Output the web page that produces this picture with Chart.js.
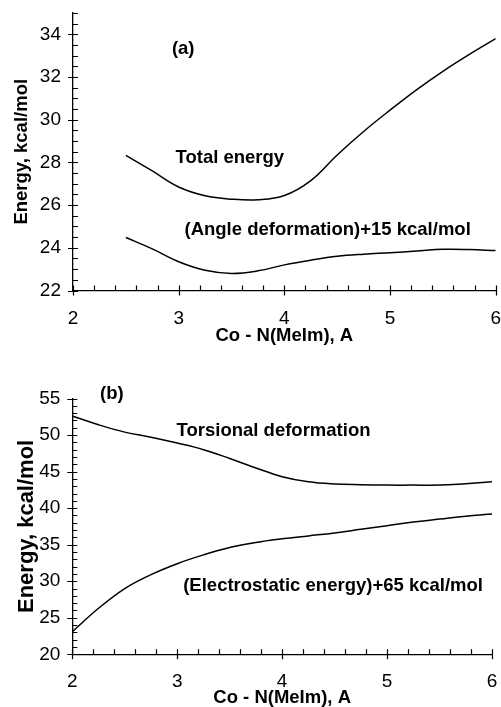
<!DOCTYPE html>
<html>
<head>
<meta charset="utf-8">
<script src="https://cdn.jsdelivr.net/npm/chart.js@4/dist/chart.umd.min.js"></script>
<style>
html,body{margin:0;padding:0;background:#fff;}
#wrap{position:relative;width:501px;height:707px;overflow:hidden;}
canvas{position:absolute;left:0;}
</style>
</head>
<body>
<div id="wrap">
<canvas id="ca" width="501" height="350" style="top:0px"></canvas>
<canvas id="cb" width="501" height="357" style="top:350px"></canvas>
</div>
<script>
// ---------- data ----------
const xA = [2.5, 2.75, 3, 3.25, 3.5, 3.75, 4, 4.25, 4.5, 4.75, 5, 5.25, 5.5, 5.75, 6];
const totalEnergy = [28.33, 27.6, 26.85, 26.44, 26.28, 26.25, 26.45, 27.15, 28.35, 29.45, 30.45, 31.4, 32.27, 33.06, 33.8];
const angleDeformation = [24.48, 23.95, 23.35, 22.95, 22.8, 22.92, 23.2, 23.42, 23.6, 23.7, 23.77, 23.85, 23.93, 23.92, 23.87];

const xB = [2, 2.25, 2.5, 2.75, 3, 3.25, 3.5, 3.75, 4, 4.25, 4.5, 4.75, 5, 5.25, 5.5, 5.75, 6];
const torsional = [52.6, 51.4, 50.4, 49.7, 48.9, 48.0, 46.8, 45.5, 44.3, 43.6, 43.3, 43.2, 43.15, 43.15, 43.15, 43.35, 43.6];
const electrostatic = [23.1, 26.3, 29.0, 30.9, 32.4, 33.6, 34.6, 35.3, 35.8, 36.2, 36.6, 37.1, 37.6, 38.1, 38.5, 38.9, 39.2];

const xTitle = 'Co - N(MeIm), A';
const yTitle = 'Energy, kcal/mol';
const notesA = ['(a)', 'Total energy', '(Angle deformation)+15 kcal/mol'];
const notesAx = [2.936, 2.97, 3.055];
const notesAy = [33.1, 27.99, 24.6];
const notesB = ['(b)', 'Torsional deformation', '(Electrostatic energy)+65 kcal/mol'];
const notesBx = [2.264, 2.994, 3.057];
const notesBy = [54.87, 49.85, 28.65];

// ---------- plugins ----------
const FONT = '"Liberation Sans", Arial, Helvetica, sans-serif';
const isMult = (v, m) => Math.abs(v / m - Math.round(v / m)) < 1e-6;

const tickMarks = {
  id: 'tickMarks',
  afterDraw(chart, args, opts) {
    const ctx = chart.ctx, sx = chart.scales.x, sy = chart.scales.y, a = chart.chartArea;
    ctx.save();
    ctx.strokeStyle = '#000';
    ctx.lineWidth = 1.2;
    ctx.beginPath();
    sx.ticks.forEach(t => {
      const px = Math.round(sx.getPixelForValue(t.value)) + 0.5;
      if (isMult(t.value, 1)) { ctx.moveTo(px, a.bottom - 5); ctx.lineTo(px, a.bottom + 5); }
      else { ctx.moveTo(px, a.bottom - 5); ctx.lineTo(px, a.bottom); }
    });
    sy.ticks.forEach(t => {
      const py = Math.round(sy.getPixelForValue(t.value)) + 0.5;
      if (isMult(t.value, opts.yMajor)) { ctx.moveTo(a.left - 5, py); ctx.lineTo(a.left + 5, py); }
      else { ctx.moveTo(a.left, py); ctx.lineTo(a.left + 5, py); }
    });
    ctx.stroke();
    ctx.restore();
  }
};

const notes = {
  id: 'notes',
  afterDraw(chart, args, opts) {
    const ctx = chart.ctx, sx = chart.scales.x, sy = chart.scales.y;
    ctx.save();
    ctx.fillStyle = '#000';
    ctx.font = 'bold 18.5px ' + FONT;
    ctx.textAlign = 'left';
    ctx.textBaseline = 'alphabetic';
    opts.texts.forEach((t, i) => {
      ctx.fillText(t, sx.getPixelForValue(opts.xs[i]), sy.getPixelForValue(opts.ys[i]));
    });
    ctx.restore();
  }
};

function makeChart(id, xs, series, cfg) {
  return new Chart(document.getElementById(id), {
    type: 'line',
    data: {
      datasets: series.map(s => ({
        data: xs.map((x, i) => ({x: x, y: s[i]})),
        borderColor: '#000',
        borderWidth: 1.5,
        pointRadius: 0,
        fill: false,
        tension: 0.4
      }))
    },
    options: {
      responsive: false,
      animation: false,
      devicePixelRatio: 1,
      layout: {padding: cfg.padding},
      plugins: {
        legend: {display: false},
        tooltip: {enabled: false},
        tickMarks: {yMajor: cfg.yMajor},
        notes: {texts: cfg.texts, xs: cfg.nx, ys: cfg.ny}
      },
      scales: {
        x: {
          type: 'linear', min: 2, max: 6,
          grid: {display: false, drawTicks: true, tickLength: cfg.xPad},
          border: {display: true, color: '#000', width: 1.3},
          ticks: {
            stepSize: 0.2, padding: 0, color: '#000',
            font: {family: FONT, size: 19},
            maxRotation: 0, autoSkip: false,
            callback: v => isMult(v, 1) ? String(Math.round(v)) : ''
          },
          title: {display: true, text: xTitle, color: '#000',
            font: {family: FONT, size: 18.5, weight: 'bold', lineHeight: 1},
            padding: {top: 0, bottom: cfg.xTitlePad}},
          afterFit: s => { s.height = cfg.xH; }
        },
        y: {
          type: 'linear', min: cfg.ymin, max: cfg.ymax,
          grid: {display: false, drawTicks: true, tickLength: 12},
          border: {display: true, color: '#000', width: 1.3},
          ticks: {
            stepSize: cfg.yMinor, padding: 0, color: '#000',
            font: {family: FONT, size: 19}, autoSkip: false,
            callback: v => isMult(v, cfg.yMajor) ? String(Math.round(v)) : ''
          },
          title: {display: true, text: yTitle, color: '#000',
            font: {family: FONT, size: cfg.yTitleSize, weight: 'bold', lineHeight: 1},
            padding: {top: cfg.yTitlePad, bottom: 0}},
          afterFit: s => { s.width = cfg.yW; }
        }
      }
    },
    plugins: [tickMarks, notes]
  });
}

makeChart('ca', xA, [totalEnergy, angleDeformation], {
  padding: {top: 13, right: 5, left: 0, bottom: 0},
  ymin: 22, ymax: 35, yMinor: 0.5, yMajor: 2,
  xPad: 17, xTitlePad: 5, xH: 59.5, yW: 73,
  yTitleSize: 18.5, yTitlePad: 13,
  texts: notesA, nx: notesAx, ny: notesAy
});

makeChart('cb', xB, [torsional, electrostatic], {
  padding: {top: 48.5, right: 9, left: 0, bottom: 0},
  ymin: 20, ymax: 55, yMinor: 1, yMajor: 5,
  xPad: 16, xTitlePad: 0, xH: 52.7, yW: 72.3,
  yTitleSize: 22, yTitlePad: 16,
  texts: notesB, nx: notesBx, ny: notesBy
});
</script>
</body>
</html>
